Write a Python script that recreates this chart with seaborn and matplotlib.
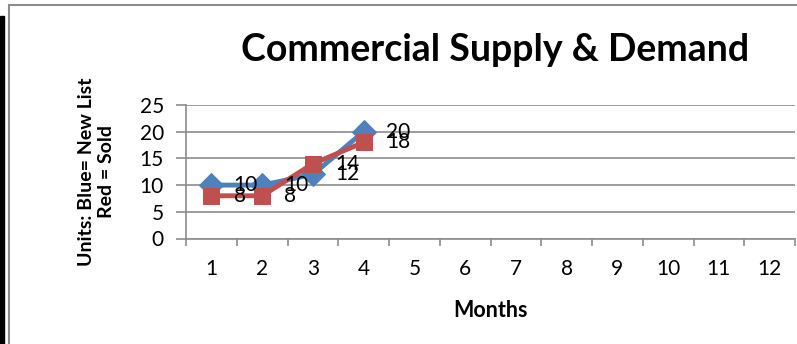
import matplotlib
matplotlib.use("Agg")
import matplotlib.pyplot as plt
import seaborn as sns
import pandas as pd
from matplotlib.patches import Rectangle

months = [str(m) for m in range(1, 13)]
new_list = [10, 10, 12, 20]
sold = [8, 8, 14, 18]

sns.set_theme(style="white")
plt.rcParams['font.family'] = ['Lato', 'DejaVu Sans']
plt.rcParams['text.color'] = 'black'
plt.rcParams['axes.labelcolor'] = 'black'
plt.rcParams['xtick.color'] = 'black'
plt.rcParams['ytick.color'] = 'black'

fig = plt.figure(figsize=(7.97, 3.44), dpi=100)
ax = fig.add_axes([186/797, (344-238.5)/344, (795-186)/797, (238.5-105)/344])

df_b = pd.DataFrame({"x": list(range(len(new_list))), "y": new_list})
df_r = pd.DataFrame({"x": list(range(len(sold))), "y": sold})
blue = "#4F81BD"
red = "#C0504D"
sns.lineplot(data=df_b, x="x", y="y", ax=ax, color=blue, lw=3.5, marker="D",
             markersize=12, markeredgecolor=blue, zorder=3)
sns.lineplot(data=df_r, x="x", y="y", ax=ax, color=red, lw=3.5, marker="s",
             markersize=12, markeredgecolor=red, zorder=4)

for i, v in enumerate(new_list):
    ax.annotate(str(v), (i, v), xytext=(16, 0), textcoords="offset points",
                va="center", ha="left", fontsize=15, color="black", zorder=5)
for i, v in enumerate(sold):
    ax.annotate(str(v), (i, v), xytext=(16, 0), textcoords="offset points",
                va="center", ha="left", fontsize=15, color="black", zorder=5)

ax.set_xlim(-0.5, 11.5)
ax.set_ylim(0, 25)
ax.set_yticks([0, 5, 10, 15, 20, 25])
ax.set_xticks(range(12))
ax.set_xticklabels(months)
ax.set_xticks([i - 0.5 for i in range(13)], minor=True)
ax.yaxis.grid(True, color="#8C8C8C", lw=1.2)
ax.xaxis.grid(False)
for s in ["top", "right"]:
    ax.spines[s].set_visible(False)
for s in ["left", "bottom"]:
    ax.spines[s].set_color("#8C8C8C")
    ax.spines[s].set_linewidth(1.2)
ax.tick_params(axis="x", which="major", length=0, pad=15, labelsize=15, labelcolor="black")
ax.tick_params(axis="x", which="minor", length=5, color="#8C8C8C", width=1.2, direction="out")
ax.tick_params(axis="y", length=7, color="#8C8C8C", width=1.2, direction="out", pad=9,
               labelsize=15, labelcolor="black")
ax.tick_params(axis="x", which="minor", bottom=True)
ax.tick_params(axis="y", left=True)
ax.set_xlabel("Months", fontsize=15.5, fontweight="bold", labelpad=15, color="black")
ax.set_ylabel("Units: Blue= New List\nRed = Sold", fontsize=14, fontweight="bold",
              labelpad=18, color="black")
ax.set_axisbelow(True)

fig.text(495/797, 1 - 50/344, "Commercial Supply & Demand", fontsize=27,
         fontweight="bold", ha="center", va="center", color="black")

fig.patches.append(Rectangle((0, 0), 4/797, (344-16)/344, transform=fig.transFigure,
                             color="black", zorder=0))
fig.lines.append(plt.Line2D([9/797, 9/797], [0, 1 - 4.5/344], transform=fig.transFigure,
                            color="#8C8C8C", lw=1.5))
fig.lines.append(plt.Line2D([9/797, 1], [1 - 4.5/344, 1 - 4.5/344], transform=fig.transFigure,
                            color="#8C8C8C", lw=1.5))

fig.savefig("out.png", dpi=100)
